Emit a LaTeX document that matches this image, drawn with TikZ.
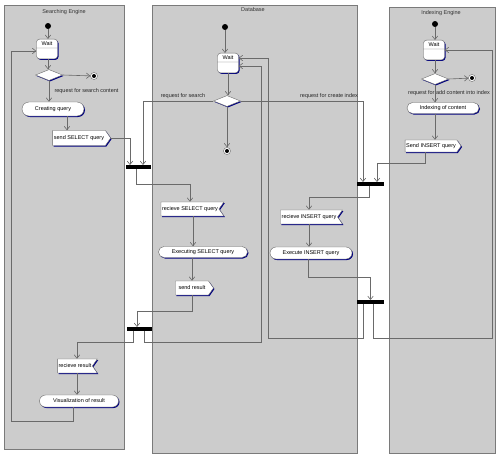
\documentclass[tikz,border=0pt]{standalone}
\usepackage{fontspec}
\setmainfont{Liberation Sans}
\usetikzlibrary{arrows.meta,shapes.geometric,shapes.misc,shapes.symbols,shapes.multipart,shadows}

\definecolor{lanegray}{HTML}{CCCCCC}
\definecolor{laneedge}{HTML}{7A7A7A}
\definecolor{flowgray}{HTML}{6A6A6A}
\definecolor{navyshade}{HTML}{000080}

\tikzset{
  tiny/.style={font=\fontsize{5.5}{6}\selectfont},
  lane/.style={draw=laneedge, fill=lanegray, line width=0.8pt},
  lanetitle/.style={tiny, text=black!80},
  navyshadow/.style={drop shadow={shadow xshift=1pt, shadow yshift=-1pt, fill=navyshade, opacity=1}},
  waitbox/.style={rectangle split, rectangle split parts=2, rectangle split empty part height=6pt,
    draw=flowgray, fill=white, rounded corners=3pt, minimum width=21pt, inner xsep=1pt, inner ysep=2.2pt,
    tiny, navyshadow},
  activity/.style={rounded rectangle, draw=flowgray, fill=white, inner sep=0pt, tiny, navyshadow},
  sendsig/.style={signal, signal to=east, signal pointer angle=110, draw=flowgray, fill=white,
    inner sep=1pt, tiny, navyshadow},
  recvsig/.style={signal, signal from=east, signal to=nowhere, signal pointer angle=110, draw=flowgray,
    fill=white, inner sep=1pt, tiny, navyshadow},
  decision/.style={diamond, draw=flowgray, fill=white, minimum width=27pt, minimum height=11pt,
    inner sep=0pt, navyshadow},
  initial/.style={circle, fill=black, minimum size=6pt, inner sep=0pt},
  final/.style={circle, draw=black!60, fill=white, minimum size=7pt, inner sep=0pt,
    path picture={\fill[black] (path picture bounding box.center) circle (2pt);}},
  syncbar/.style={rectangle, fill=black, minimum width=25pt, minimum height=3.5pt, inner sep=0pt},
  flow/.style={draw=flowgray, line width=0.6pt, -{Straight Barb[length=3.5pt,width=5.5pt]}},
  guard/.style={tiny, text=black!85},
}

\begin{document}
\begin{tikzpicture}[x=1pt, y=-1pt]
\useasboundingbox (0,0) rectangle (500,458);

% Swimlanes
\draw[lane] (4,5) rectangle (124,449);
\draw[lane] (152,5) rectangle (357,453);
\draw[lane] (389,7) rectangle (495,453);
\node[lanetitle] at (64,12) {Searching Engine};
\node[lanetitle] at (253,10) {Database};
\node[lanetitle] at (441,13) {Indexing Engine};

% Searching Engine
\node[initial] (ses) at (48,26) {};
\node[waitbox] (sewait) at (47,49) {Wait\nodepart{two}};
\node[decision] (sedec) at (49,75) {};
\node[final] (seend) at (94,76) {};
\node[guard, anchor=west] at (51,91) {request for search content};
\node[activity, minimum width=62pt, minimum height=14pt] (creq) at (53,109) {Creating query};
\node[sendsig, minimum width=58pt, minimum height=15pt] (sendsel) at (79,138) {send SELECT query};
\node[recvsig, minimum width=38pt, minimum height=14pt] (recres) at (75,366) {recieve result};
\node[activity, minimum width=79pt, minimum height=12pt] (vis) at (79,401) {Visualization of result};

% Database
\node[initial] (dbs) at (225,27) {};
\node[waitbox] (dbwait) at (228,63) {Wait\nodepart{two}};
\node[decision] (dbdec) at (227,101) {};
\node[final] (dbend) at (227,151) {};
\node[guard] at (183,96) {request for search};
\node[guard] at (329,96) {request for create index};
\node[recvsig, minimum width=59pt, minimum height=14pt] (recsel) at (190,209) {recieve SELECT query};
\node[activity, minimum width=89pt, minimum height=11pt] (execsel) at (203,252) {Executing SELECT query};
\node[sendsig, minimum width=38pt, minimum height=14pt] (sendres) at (192,288) {send result};
\node[recvsig, minimum width=62pt, minimum height=14pt] (recins) at (309,217) {recieve INSERT query};
\node[activity, minimum width=82pt, minimum height=12pt] (execins) at (311,253) {Execute INSERT query};

% Indexing Engine
\node[initial] (ies) at (435,24) {};
\node[waitbox] (iewait) at (434,50) {Wait\nodepart{two}};
\node[decision] (iedec) at (435,79) {};
\node[final] (ieend) at (472,78) {};
\node[guard] at (449,93) {request for add content into index};
\node[activity, minimum width=72pt, minimum height=11pt] (idx) at (443,108) {Indexing of content};
\node[sendsig, minimum width=55pt, minimum height=12pt] (sendins) at (431,146) {Send INSERT query};

% Synchronisation bars
\node[syncbar] (fork1) at (138.5,167) {};
\node[syncbar] (join1) at (139.5,329) {};
\node[syncbar, minimum width=27pt] (fork2) at (370.5,184) {};
\node[syncbar, minimum width=27pt] (join2) at (370.5,302) {};

% Searching Engine flow
\draw[flow] (ses) -- (ses |- sewait.north);
\draw[flow] (sewait.south -| ses) -- (ses |- sedec.north);
\draw[flow] (sedec.east) -- (seend);
\draw[flow] (sedec) -- (sedec |- creq.north);
\draw[flow] ([xshift=14pt]creq.south) -- ([xshift=14pt]creq.south |- sendsel.north);
\draw[flow] (sendsel.east) -| ([xshift=-8.5pt]fork1.north);
\draw[flow] ([xshift=2pt]recres.south) -- ([xshift=2pt]recres.south |- vis.north);
\draw[flow] ([xshift=-6pt]vis.south) -- ++(0,14) -- ++(-62,0) |- ([yshift=-2pt]sewait.west);

% Database flow
\draw[flow] (dbs) -- (dbs |- dbwait.north);
\draw[flow] (dbwait) -- (dbwait |- dbdec.north);
\draw[flow] (dbdec) -- (dbend);
\draw[flow] (dbdec.west) -| ([xshift=4.5pt]fork1.north);
\draw[flow] (dbdec.east) -| ([xshift=-7.5pt]fork2.north);
\draw[flow] ([xshift=-2.5pt]fork1.south) -- ++(0,15) -| (recsel.north);
\draw[flow] ([xshift=3pt]recsel.south) -- ([xshift=3pt]recsel.south |- execsel.north);
\draw[flow] (execsel.south -| sendres.north) -- (sendres.north);
\draw[flow] (sendres.south) -- ++(0,16) -| ([xshift=-2.5pt]join1.north);
\draw[flow] ([xshift=-6.5pt]join1.south) -- ++(0,11) -| ([xshift=2pt]recres.north);
\draw[flow] ([xshift=4.5pt]join1.south) -- ++(0,11) -- ++(117,0) |- ([yshift=-3pt]dbwait.east);
\draw[flow] ([xshift=-1.5pt]fork2.south) -- ++(0,11) -| (recins.north);
\draw[flow] (recins.south) -- (recins.south |- execins.north);
\draw[flow] ([xshift=-3pt]execins.south) -- ++(0,18) -| (join2.north);
\draw[flow] ([xshift=-7.5pt]join2.south) -- ++(0,34) -- ++(-95,0) |- ([yshift=5pt]dbwait.east);

% Indexing Engine flow
\draw[flow] (ies) -- (ies |- iewait.north);
\draw[flow] (iewait.south -| ies) -- (ies |- iedec.north);
\draw[flow] (iedec.east) -- (ieend);
\draw[flow] (iedec) -- (iedec |- idx.north);
\draw[flow] (idx.south -| iedec) -- (iedec |- sendins.north);
\draw[flow] ([xshift=-6pt]sendins.south) -- ++(0,11) -| ([xshift=6.5pt]fork2.north);
\draw[flow] ([xshift=2.5pt]join2.south) -- ++(0,34) -- ++(119,0) |- (iewait.east);
\end{tikzpicture}
\end{document}
